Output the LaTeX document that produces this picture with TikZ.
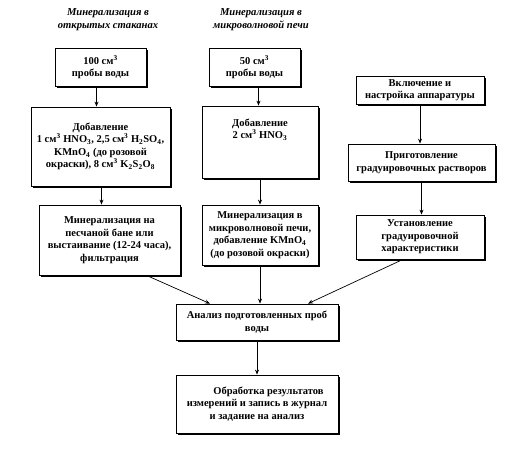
\documentclass[tikz,border=0pt]{standalone}
\usepackage{fontspec}
\setmainfont{Liberation Serif}
\usetikzlibrary{shadows,arrows.meta}
\tikzset{
  box/.style={draw, line width=0.8pt, fill=white, align=center, inner sep=1pt,
    font=\fontsize{10.5}{12.5}\selectfont\bfseries,
    drop shadow={shadow xshift=1.6pt, shadow yshift=-1.6pt, fill=black, opacity=1}},
  ttl/.style={align=center, font=\fontsize{10.6}{13}\selectfont\bfseries\itshape},
  arr/.style={line width=0.7pt, -{Stealth[length=5pt,width=4pt]}}
}
\newcommand{\sq}{\textsuperscript{3}}
\newcommand{\sbs}[1]{\textsubscript{#1}}
\begin{document}
\begin{tikzpicture}[x=1pt,y=-1pt]
\useasboundingbox (0,0) rectangle (517,457);
\node[ttl] (t1) at (108,20) {Минерализация в\\открытых стаканах};
\node[ttl] (t2) at (261,20) {Минерализация в\\микроволновой печи};

\node[box, minimum width=91pt, minimum height=38pt] (a1) at (100.5,67) {100 см\sq\\пробы воды};
\node[box, minimum width=91pt, minimum height=38pt] (a2) at (254.5,67) {50 см\sq\\пробы воды};
\node[box, minimum width=139pt, minimum height=79pt] (b1) at (100.5,146.5) {Добавление\\1 см\sq{} HNO\sbs{3}, 2,5 см\sq{} H\sbs{2}SO\sbs{4},\\KMnO\sbs{4} (до розовой\\окраски), 8 см\sq{} K\sbs{2}S\sbs{2}O\sbs{8}};
\node[box, minimum width=116pt, minimum height=72pt] (b2) at (260,142) {Добавление\\2 см\sq{} HNO\sbs{3}\\[2pt]~\\~};
\node[box, minimum width=128pt, minimum height=28pt] (c1) at (420,90) {Включение и\\настройка аппаратуры};
\node[box, minimum width=147pt, minimum height=37pt] (c2) at (421.5,162.5) {Приготовление\\градуировочных растворов};
\node[box, minimum width=128pt, minimum height=44pt] (c3) at (420,237) {Установление\\градуировочной\\характеристики};
\node[box, minimum width=141pt, minimum height=70pt] (m1) at (109.5,240) {Минерализация на\\песчаной бане или\\выстаивание (12-24 часа),\\фильтрация};
\node[box, minimum width=116pt, minimum height=60pt] (m2) at (260,235) {Минерализация в\\микроволновой печи,\\добавление KMnO\sbs{4}\\(до розовой окраски)};
\node[box, minimum width=162pt, minimum height=36pt] (n) at (257,322) {Анализ подготовленных проб\\воды};
\node[box, minimum width=162pt, minimum height=58pt] (o) at (257,404) {\hspace*{2.2em}Обработка результатов\\измерений и запись в журнал\\и задание на анализ};

\draw[arr] ([xshift=-4pt]a1.south) -- ([xshift=-4pt]a1.south |- b1.north);
\draw[arr] ([xshift=4pt]a2.south) -- ([xshift=4pt]a2.south |- b2.north);
\draw[arr] ([xshift=1pt]b1.south) -- ([xshift=1pt]b1.south |- m1.north);
\draw[arr] (b2.south) -- (b2.south |- m2.north);
\draw[arr] (c1.south) -- (c1.south |- c2.north);
\draw[arr] (c2.south) -- (c2.south |- c3.north);
\draw[arr] ([xshift=37pt]m1.south) -- ([xshift=-47pt]n.north);
\draw[arr] (m2.south) -- (m2.south |- n.north);
\draw[arr] ([xshift=-17pt]c3.south) -- ([xshift=51pt]n.north);
\draw[arr] (n.south) -- (n.south |- o.north);
\end{tikzpicture}
\end{document}
